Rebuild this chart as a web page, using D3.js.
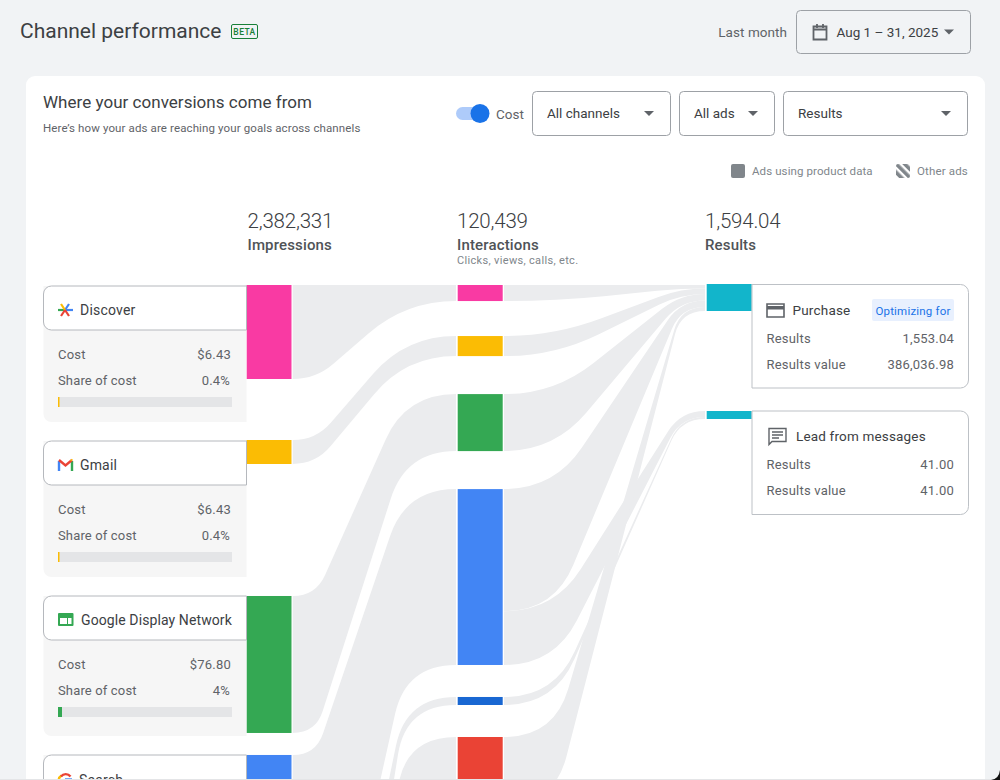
<!DOCTYPE html>
<html>
<head>
<meta charset="utf-8">
<script src="https://cdn.jsdelivr.net/npm/d3@7"></script>
<style>
html, body { margin: 0; padding: 0; background: #f1f3f5; overflow: hidden; }
svg { display: block; font-family: Roboto, sans-serif; }
</style>
</head>
<body>
<div id="chart"></div>
<script>
// values, the last two channels are below the fold
var channels = ['Discover', 'Gmail', 'Google Display Network', 'Search', 'Search partners', 'YouTube'];
var channelColors = ['#f93aa3', '#fbbc04', '#34a853', '#4285f4', '#1967d2', '#ea4335'];
var impressions = [298600, 76200, 435100, 1000400, 412900, 159131];
var interactionsToPurchase = [5600, 7000, 19900, 42600, 0, 23739];
var interactionsToLead = [0, 0, 0, 18800, 2800, 0];
var resultsToPurchase = [209, 328, 388, 388, 0, 240.04];
var resultsToLead = [0, 0, 0, 31, 10, 0];

var costs = ['$6.43', '$6.43', '$76.80'];
var costShare = [0.4, 0.4, 4];
var costShareText = ['0.4%', '0.4%', '4%'];
var costShareColors = ['#fbbc04', '#fbbc04', '#34a853'];

var columns = ['Impressions', 'Interactions', 'Results'];
var columnTotals = ['2,382,331', '120,439', '1,594.04'];
var resultNames = ['Purchase', 'Lead from messages'];
var resultValues = [1553.04, 41];
var resultMoney = ['386,036.98', '41.00'];

// layout
var impressionGaps = [61, 132, 22, 65, 35];
var interactionGaps = [35, 38, 38, 32, 32];
var chartTop = 285;
var barWidth = 45;
var linkColor = '#ebecee';

var svg = d3.select('#chart').append('svg').attr('width', 1000).attr('height', 780);

function label (g, x, y, txt, size, color, anchor, weight) {
    return g.append('text')
        .attr('x', x).attr('y', y)
        .attr('dy', '0.35em')
        .attr('font-size', size)
        .attr('fill', color)
        .attr('text-anchor', anchor || 'start')
        .attr('font-weight', weight || 400)
        .text(txt);
}

// page + card
svg.append('rect').attr('width', 1000).attr('height', 780).attr('fill', '#f1f3f5');
svg.append('rect').attr('x', 26).attr('y', 76).attr('width', 959).attr('height', 760).attr('rx', 9).attr('fill', '#fff');

// header
label(svg, 20, 31, 'Channel performance', 21, '#3c4043');
svg.append('rect').attr('x', 231.5).attr('y', 24.5).attr('width', 26).attr('height', 14).attr('rx', 1.5)
    .attr('fill', 'none').attr('stroke', '#188038');
label(svg, 244.5, 31.8, 'BETA', 8.5, '#188038', 'middle', 500).attr('letter-spacing', 0.4);
label(svg, 787, 32, 'Last month', 13.5, '#5f6368', 'end').attr('letter-spacing', 0.05);

function chip (x, w, y, h, txt, txtX, arrowX, fill) {
    svg.append('rect').attr('x', x + 0.5).attr('y', y + 0.5).attr('width', w - 1).attr('height', h).attr('rx', 4)
        .attr('fill', fill).attr('stroke', '#9da1a6');
    label(svg, txtX, y + h / 2 + 0.5, txt, 13.5, '#3c4043');
    svg.append('path')
        .attr('d', 'M' + (arrowX - 5) + ',' + (y + h / 2 - 2) + 'h10l-5,5z')
        .attr('fill', '#5f6368');
}
chip(796, 175, 10, 43, 'Aug 1 – 31, 2025', 836.5, 949, 'none');
chip(532, 139, 91, 44, 'All channels', 547, 649, '#fff');
chip(679, 96, 91, 44, 'All ads', 694, 753, '#fff');
chip(783, 185, 91, 44, 'Results', 798, 946, '#fff');

// calendar icon
svg.append('path')
    .attr('d', 'M813.5,26.5h13v13h-13z M813.5,29.5h13 M817,24v4 M823,24v4')
    .attr('fill', 'none').attr('stroke', '#5f6368').attr('stroke-width', 1.8);

// card head
label(svg, 43, 102, 'Where your conversions come from', 17, '#3c4043').attr('letter-spacing', 0.03);
label(svg, 43, 128, 'Here’s how your ads are reaching your goals across channels', 11.5, '#5f6368').attr('letter-spacing', 0.12);

// toggle
svg.append('rect').attr('x', 456).attr('y', 107).attr('width', 27).attr('height', 13).attr('rx', 6.5).attr('fill', '#aecbfa');
svg.append('circle').attr('cx', 480).attr('cy', 113.5).attr('r', 9.5).attr('fill', '#1a73e8');
label(svg, 496, 114, 'Cost', 13.5, '#5f6368');

// legend
var hatch = svg.append('defs').append('pattern').attr('id', 'hatch')
    .attr('width', 6).attr('height', 6).attr('patternUnits', 'userSpaceOnUse')
    .attr('patternTransform', 'rotate(-45)');
hatch.append('rect').attr('width', 3.6).attr('height', 6).attr('fill', '#80868b');
svg.append('rect').attr('x', 731).attr('y', 164).attr('width', 14).attr('height', 14).attr('rx', 2).attr('fill', '#80868b');
label(svg, 752, 171, 'Ads using product data', 11.5, '#80868b').attr('letter-spacing', 0.1);
svg.append('rect').attr('x', 896).attr('y', 164).attr('width', 14).attr('height', 14).attr('rx', 2).attr('fill', 'url(#hatch)');
label(svg, 917, 171, 'Other ads', 11.5, '#80868b').attr('letter-spacing', 0.15);

// scales
var columnX = d3.scaleOrdinal().domain(columns).range([246.5, 457.7, 706.7]);
var impressionY = d3.scaleLinear().domain([0, d3.sum(impressions)]).range([0, 750]);
var interactions = channels.map(function (d, i) { return interactionsToPurchase[i] + interactionsToLead[i]; });
var interactionY = d3.scaleLinear().domain([0, d3.sum(interactions)]).range([0, 345]);
// the result bars are not in proportion in the picture, so each has its own scale
var purchaseY = d3.scaleLinear().domain([0, resultValues[0]]).range([285, 311]);
var leadY = d3.scaleLinear().domain([0, resultValues[1]]).range([411, 419]);
var shareX = d3.scaleLinear().domain([0, 174]).range([0, 174]);

function stack (values, scale, gaps) {
    var y = chartTop;
    return values.map(function (v, i) {
        var h = scale(v);
        var row = {top: y, bottom: y + h, height: h};
        y = y + h + gaps[i];
        return row;
    });
}
var impressionRows = stack(impressions, impressionY, impressionGaps);
var interactionRows = stack(interactions, interactionY, interactionGaps);

// ribbons: straight middle with a rounded corner on each end
function corners (x0, y0, x1, y1, c0, c1) {
    var qx0 = x0 + c0, qx1 = x1 - c1;
    var dx = qx1 - qx0, dy = y1 - y0;
    var len = Math.sqrt(dx * dx + dy * dy);
    var t0 = Math.min(c0, len / 2) / len, t1 = Math.min(c1, len / 2) / len;
    return {
        qx0: qx0, qx1: qx1,
        ex0: qx0 + dx * t0, ey0: y0 + dy * t0,
        ex1: qx1 - dx * t1, ey1: y1 - dy * t1
    };
}
function ribbon (l) {
    var p = d3.path();
    var a = corners(l.x0, l.y0a, l.x1, l.y1a, l.c0, l.c1);
    var b = corners(l.x0, l.y0b, l.x1, l.y1b, l.c0, l.c1);
    p.moveTo(l.x0, l.y0a);
    p.quadraticCurveTo(a.qx0, l.y0a, a.ex0, a.ey0);
    p.lineTo(a.ex1, a.ey1);
    p.quadraticCurveTo(a.qx1, l.y1a, l.x1, l.y1a);
    p.lineTo(l.x1, l.y1b);
    p.quadraticCurveTo(b.qx1, l.y1b, b.ex1, b.ey1);
    p.lineTo(b.ex0, b.ey0);
    p.quadraticCurveTo(b.qx0, l.y0b, l.x0, l.y0b);
    p.closePath();
    return p.toString();
}

var links = [];
channels.forEach(function (c, i) {
    links.push({
        x0: columnX('Impressions') + barWidth + 1.2, x1: columnX('Interactions') - 1.7, c0: 23, c1: 50,
        y0a: impressionRows[i].top, y0b: impressionRows[i].bottom,
        y1a: interactionRows[i].top, y1b: interactionRows[i].bottom
    });
});
var purchaseSum = 0, leadSum = 0;
channels.forEach(function (c, i) {
    var row = interactionRows[i];
    var split = row.top + interactionY(interactionsToPurchase[i]);
    if (interactionsToPurchase[i] > 0) {
        links.push({
            x0: columnX('Interactions') + barWidth + 1.3, x1: columnX('Results') - 1.7, c0: 50, c1: 24,
            y0a: row.top, y0b: split,
            y1a: purchaseY(purchaseSum), y1b: purchaseY(purchaseSum + resultsToPurchase[i])
        });
        purchaseSum += resultsToPurchase[i];
    }
    if (interactionsToLead[i] > 0) {
        links.push({
            x0: columnX('Interactions') + barWidth + 1.3, x1: columnX('Results') - 1.7, c0: 50, c1: 24,
            y0a: split, y0b: row.bottom,
            y1a: leadY(leadSum), y1b: leadY(leadSum + resultsToLead[i])
        });
        leadSum += resultsToLead[i];
    }
});

svg.append('g').selectAll('path')
    .data(links).enter()
    .append('path')
    .attr('d', ribbon)
    .attr('fill', linkColor);

// bars
svg.append('g').selectAll('rect')
    .data(impressionRows).enter()
    .append('rect')
    .attr('x', columnX('Impressions'))
    .attr('y', function (d) { return d.top; })
    .attr('width', barWidth)
    .attr('height', function (d) { return d.height; })
    .attr('fill', function (d, i) { return channelColors[i]; });

svg.append('g').selectAll('rect')
    .data(interactionRows).enter()
    .append('rect')
    .attr('x', columnX('Interactions'))
    .attr('y', function (d) { return d.top; })
    .attr('width', barWidth)
    .attr('height', function (d) { return d.height; })
    .attr('fill', function (d, i) { return channelColors[i]; });

var resultBars = [[purchaseY(0) - 1, purchaseY(resultValues[0])], [leadY(0), leadY(resultValues[1])]];
svg.append('g').selectAll('rect')
    .data(resultBars).enter()
    .append('rect')
    .attr('x', columnX('Results'))
    .attr('y', function (d) { return d[0]; })
    .attr('width', barWidth)
    .attr('height', function (d) { return d[1] - d[0]; })
    .attr('fill', '#12b5cb');

// column heads
columns.forEach(function (c, i) {
    var x = i == 2 ? 705 : columnX(c) + (i == 0 ? 1 : -0.7);
    label(svg, x, 221, columnTotals[i], 20.5, '#3c4043', 'start', 300).attr('letter-spacing', -0.2);
    label(svg, x, 245, c, 15, '#4f5357', 'start', 500).attr('letter-spacing', 0.15);
});
label(svg, 457, 260, 'Clicks, views, calls, etc.', 11, '#80868b').attr('letter-spacing', 0.33);

// channel cards
var cardTops = [286, 441, 596, 755];
var cardBodies = [136, 136, 140, 160];
var cardX = 43.5, cardW = 203;

function channelCard (i) {
    var t = cardTops[i];
    var g = svg.append('g');
    var h = cardBodies[i];
    g.append('path')
        .attr('d', 'M' + cardX + ',' + t + 'h' + cardW + 'v' + h + 'h-' + (cardW - 8) + 'a8,8 0 0 1 -8,-8v-' + (h - 8) + 'z')
        .attr('fill', '#f6f6f6');
    g.append('path')
        .attr('d', 'M' + (cardX + cardW) + ',' + t + 'h-' + (cardW - 8) + 'a8,8 0 0 0 -8,8v28a8,8 0 0 0 8,8h' + (cardW - 8) + 'z')
        .attr('fill', '#fff').attr('stroke', '#b5b8bd');
    if (i > 2) return g;
    label(g, 58, t + 68, 'Cost', 13, '#5f6368').attr('letter-spacing', 0.2);
    label(g, 231, t + 68, costs[i], 13, '#5f6368', 'end').attr('letter-spacing', 0.2);
    label(g, 58, t + 94, 'Share of cost', 13, '#5f6368').attr('letter-spacing', 0.15);
    label(g, 230, t + 94, costShareText[i], 13, '#5f6368', 'end').attr('letter-spacing', 0.2);
    g.append('rect').attr('x', 58).attr('y', t + 111).attr('width', 174).attr('height', 10).attr('fill', '#e4e5e7');
    g.append('rect').attr('x', 58).attr('y', t + 111)
        .attr('width', Math.max(1.5, shareX(costShare[i])))
        .attr('height', 10)
        .attr('fill', costShareColors[i]);
    return g;
}
channels.slice(0, 4).forEach(function (c, i) { channelCard(i); });

label(svg, 80, 310, channels[0], 14, '#3c4043').attr('letter-spacing', 0.2);
label(svg, 80, 465, channels[1], 14, '#3c4043').attr('letter-spacing', 0.15);
label(svg, 81, 620, channels[2], 14, '#3c4043').attr('letter-spacing', 0.1);
label(svg, 79, 780, channels[3], 14, '#3c4043').attr('letter-spacing', 0.2);

// channel icons
function stroke (d, color, width) {
    svg.append('path').attr('d', d).attr('fill', 'none').attr('stroke', color).attr('stroke-width', width);
}
stroke('M58,310h7', '#34a853', 2.2);
stroke('M65,310h8', '#4285f4', 2.2);
stroke('M65,310l4,-6', '#4285f4', 2.2);
stroke('M65,310l-4,-6', '#fbbc04', 2.2);
stroke('M65,310l-4,6', '#ea4335', 2.2);
stroke('M65,310l4,6', '#ea4335', 2.2);

stroke('M59,471v-10', '#4285f4', 2.4);
stroke('M72,471v-10', '#34a853', 2.4);
stroke('M59,460l6.5,5.5l6.5,-5.5', '#ea4335', 2.4);
stroke('M71,459.5l1,1', '#fbbc04', 2.4);

svg.append('rect').attr('x', 58).attr('y', 613).attr('width', 15.5).attr('height', 13).attr('rx', 1).attr('fill', '#34a853');
svg.append('rect').attr('x', 60).attr('y', 618).attr('width', 7).attr('height', 6).attr('fill', '#fff');
svg.append('rect').attr('x', 68).attr('y', 618).attr('width', 3.5).attr('height', 6).attr('fill', '#fff');

stroke('M60,784.5a6,6 0 0 1 1.5,-9', '#fbbc04', 2.4);
stroke('M61,776.5a6,6 0 0 1 9.5,0', '#ea4335', 2.4);
stroke('M65,779.5h7', '#4285f4', 2.4);

// result cards
function resultCard (i, t) {
    var g = svg.append('g');
    var w = 216.5, h = 103.5;
    g.append('path')
        .attr('d', 'M752,' + t + 'h' + (w - 8) + 'a8,8 0 0 1 8,8v' + (h - 16) + 'a8,8 0 0 1 -8,8h-' + (w - 8) + 'z')
        .attr('fill', '#fff').attr('stroke', '#bdc1c6');
    label(g, 766.5, t + 53.5, 'Results', 13, '#5f6368').attr('letter-spacing', 0.2);
    label(g, 954, t + 53.5, d3.format(',.2f')(resultValues[i]), 13, '#5f6368', 'end').attr('letter-spacing', 0.2);
    label(g, 766.5, t + 79.5, 'Results value', 13, '#5f6368').attr('letter-spacing', 0.2);
    label(g, 954, t + 79.5, resultMoney[i], 13, '#5f6368', 'end').attr('letter-spacing', 0.2);
    return g;
}
var purchaseCard = resultCard(0, 284.5);
var leadCard = resultCard(1, 411);

label(purchaseCard, 792.5, 310.5, resultNames[0], 13.5, '#3c4043').attr('letter-spacing', 0.2);
purchaseCard.append('rect').attr('x', 872).attr('y', 299).attr('width', 82).attr('height', 22).attr('rx', 2).attr('fill', '#e8f0fe');
label(purchaseCard, 913, 310.5, 'Optimizing for', 11.5, '#1a73e8', 'middle').attr('letter-spacing', 0.2);
// credit card icon
purchaseCard.append('path')
    .attr('d', 'M767,304h17v13h-17z')
    .attr('fill', 'none').attr('stroke', '#5f6368').attr('stroke-width', 1.6);
purchaseCard.append('rect').attr('x', 767).attr('y', 306).attr('width', 17).attr('height', 3.5).attr('fill', '#5f6368');

label(leadCard, 796, 436.5, resultNames[1], 13.5, '#3c4043').attr('letter-spacing', 0.17);
// message icon
leadCard.append('path')
    .attr('d', 'M769,428.5h17v13h-14l-3,3z M772,432h11 M772,435h11 M772,438h7')
    .attr('fill', 'none').attr('stroke', '#5f6368').attr('stroke-width', 1.4);

// bottom edge of the window
svg.append('rect').attr('y', 779).attr('width', 1000).attr('height', 1).attr('fill', '#e4e5e7');
svg.append('path').attr('d', 'M1000,770Q999,779 991,780L1000,780Z').attr('fill', '#111');
</script>
</body>
</html>
